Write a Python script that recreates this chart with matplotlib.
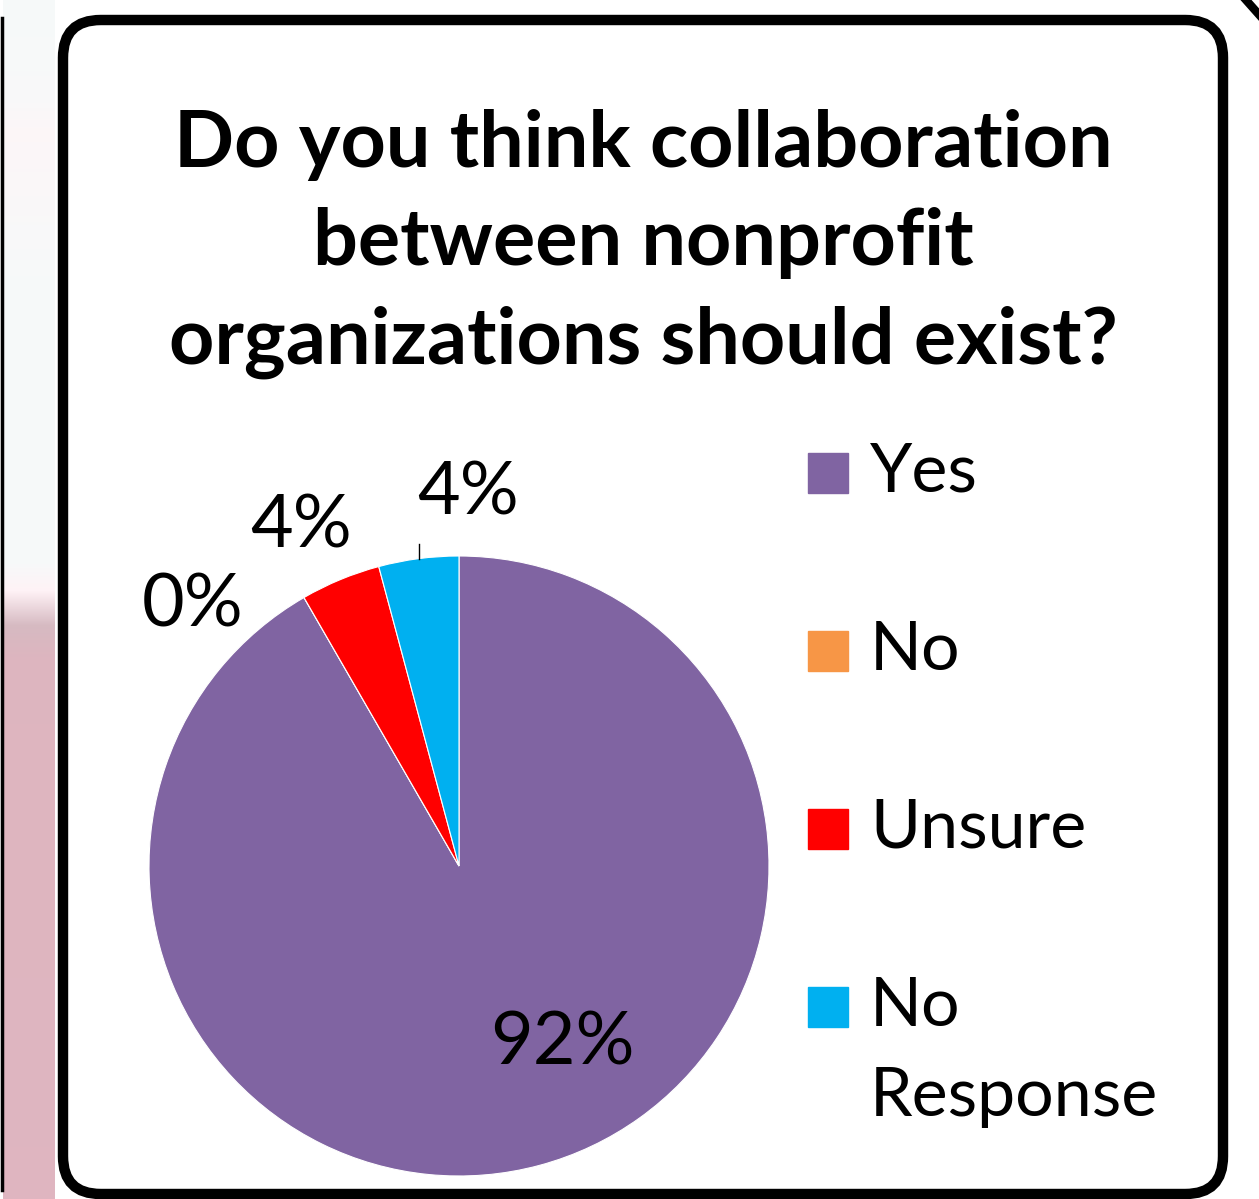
"""Pie chart: should collaboration between nonprofit organizations exist?"""

import matplotlib.pyplot as plt
import numpy as np
from matplotlib.patches import FancyBboxPatch, Rectangle
from matplotlib.lines import Line2D

plt.rcParams["font.family"] = ["Lato", "DejaVu Sans"]

# survey data (response counts)
categories = ["Yes", "No", "Unsure", "No Response"]
legend_labels = ["Yes", "No", "Unsure", "No\nResponse"]
counts = [22, 0, 1, 1]
colors = ["#8064A2", "#F79646", "#FF0000", "#00B0F0"]
title = "Do you think collaboration\nbetween nonprofit\norganizations should exist?"

# where each percentage label sits (pie radius units)
label_pos = [(0.335, -0.575), (-0.86, 0.84), (-0.51, 1.095), (0.03, 1.20)]

W, H = 1259, 1199
fig = plt.figure(figsize=(W / 100, H / 100), dpi=100)
fig.patch.set_facecolor("white")

# left strip from neighbouring slide
grad = np.array([
    [0.965, 0.980, 0.980],
    [0.975, 0.975, 0.978],
    [0.990, 0.965, 0.972],
    [0.965, 0.980, 0.980],
    [0.965, 0.980, 0.980],
    [1.000, 0.950, 0.965],
    [0.840, 0.730, 0.760],
    [0.870, 0.710, 0.750],
    [0.875, 0.710, 0.755],
])
stops = np.array([0, 100, 130, 300, 560, 590, 625, 660, 1199])
ys = np.arange(H)
img = np.stack([np.interp(ys, stops, grad[:, c]) for c in range(3)], axis=-1)
img = np.repeat(img[:, None, :], 2, axis=1)
bg = fig.add_axes([3 / W, 0, 52 / W, 1])
bg.imshow(img, aspect="auto", interpolation="bilinear")
bg.axis("off")
fig.add_artist(Line2D([1.5 / W, 1.5 / W], [1 - 1190 / H, 1 - 18 / H],
                      color="black", lw=2.5, transform=fig.transFigure))
fig.add_artist(Line2D([1246 / W, 1262 / W], [1, 1 - 18 / H],
                      color="black", lw=6, transform=fig.transFigure))

# rounded frame
frame = FancyBboxPatch((63 / W, 1 - 1194 / H), 1160 / W, 1174 / H,
                       boxstyle="round,pad=0,rounding_size=0.03",
                       transform=fig.transFigure, facecolor="none",
                       edgecolor="black", lw=7.5, mutation_aspect=W / H)
fig.add_artist(frame)

fig.text(643 / W, 1 - 244 / H, title, ha="center", va="center",
         fontsize=57, fontweight="bold", linespacing=1.46)

# pie
cx, cy, r = 459, 866, 310
ax = fig.add_axes([(cx - r) / W, 1 - (cy + r) / H, 2 * r / W, 2 * r / H])
wedges, _ = ax.pie(counts, colors=colors, startangle=90, counterclock=False,
                   radius=1, wedgeprops=dict(edgecolor="white", linewidth=0.8))
ax.set_xlim(-1, 1)
ax.set_ylim(-1, 1)
ax.set_aspect("equal")
ax.axis("off")

total = sum(counts)
for n, (lx, ly) in zip(counts, label_pos):
    ax.text(lx, ly, f"{100 * n / total:.0f}%", ha="center", va="center",
            fontsize=53, clip_on=False)
# leader line for the last slice
ax.plot([-0.13, -0.13], [0.99, 1.04], color="black", lw=1, clip_on=False)

# legend
for i, (lab, col) in enumerate(zip(legend_labels, colors)):
    yc = 473 + i * 178
    fig.add_artist(Rectangle((808 / W, 1 - (yc + 20) / H), 40 / W, 40 / H,
                             color=col, transform=fig.transFigure))
    fig.text(870 / W, 1 - (yc - 31) / H, lab, ha="left", va="top",
             fontsize=49, linespacing=1.55)

fig.savefig("out.png", dpi=100)
